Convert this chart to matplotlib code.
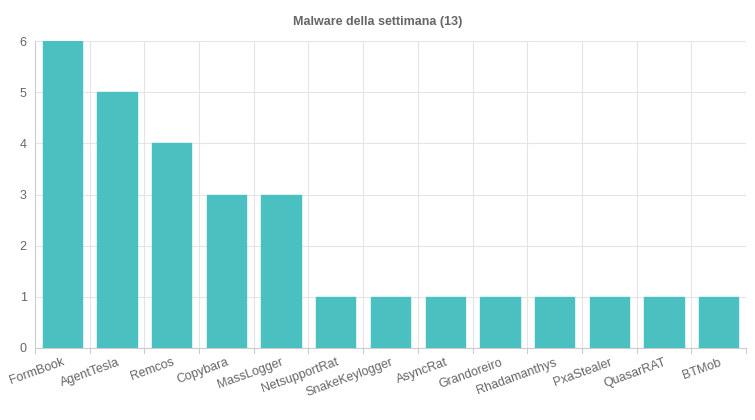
import matplotlib
matplotlib.use("Agg")
import matplotlib.pyplot as plt
import numpy as np

categories = ["FormBook","AgentTesla","Remcos","Copybara","MassLogger","NetsupportRat",
              "SnakeKeylogger","AsyncRat","Grandoreiro","Rhadamanthys","PxaStealer","QuasarRAT","BTMob"]
values = [6,5,4,3,3,1,1,1,1,1,1,1,1]
title = "Malware della settimana (13)"

plt.rcParams["font.family"] = "Liberation Sans"
fig = plt.figure(figsize=(7.55,4.2), dpi=100)
ax = fig.add_axes([35/755, 72/420, 711/755, 307/420])
x = np.arange(len(categories))
ax.bar(x, values, width=0.72, color="#4bc0c0", edgecolor="#4bc0c0", zorder=3)
ax.set_xlim(-0.5, len(categories)-0.5)
ax.set_ylim(0, 6)
ax.set_yticks(range(7))
ax.set_xticks(x)
ax.set_xticklabels(categories, rotation=20, ha="right", rotation_mode="anchor", fontsize=9, color="#666666")
ax.tick_params(axis="y", labelsize=9, colors="#666666", length=0, pad=6)
ax.tick_params(axis="x", length=0, pad=6)
for b in np.arange(-0.5, len(categories), 1):
    ax.axvline(b, color="#e5e5e5", lw=0.8, zorder=0)
    ax.plot([b,b],[0,-0.1], color="#cccccc", lw=0.8, clip_on=False)
ax.grid(axis="y", color="#e5e5e5", lw=0.8, zorder=0)
for s in ["top","right"]:
    ax.spines[s].set_visible(False)
ax.spines["left"].set_color("#cccccc")
ax.spines["bottom"].set_color("#cccccc")
fig.text(0.5, 1-22/420, title, ha="center", va="center", fontsize=9, fontweight="bold", color="#666666")
fig.savefig("out.png", dpi=100)
